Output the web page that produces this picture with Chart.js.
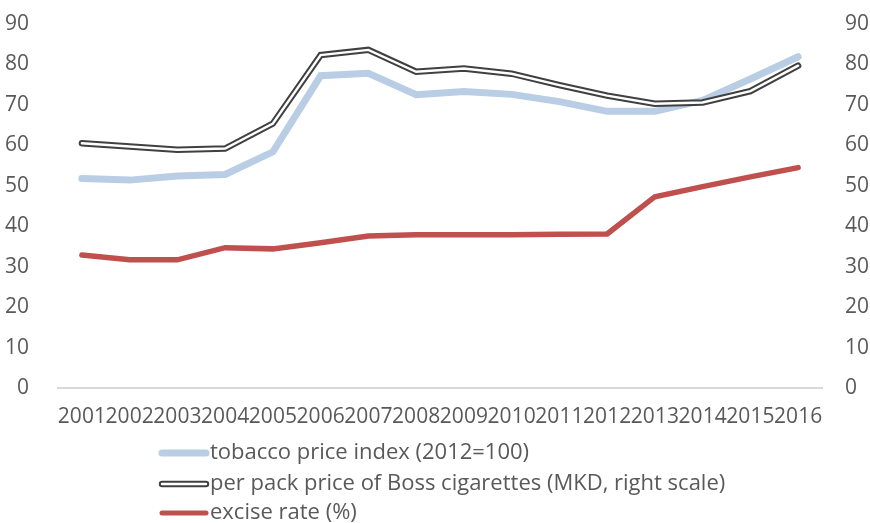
<!DOCTYPE html>
<html><head><meta charset="utf-8">
<script src="https://cdn.jsdelivr.net/npm/chart.js@4/dist/chart.umd.min.js"></script>
<style>html,body{margin:0;padding:0;background:#fff;}#wrap{width:870px;height:523px;}</style>
</head><body><div id="wrap"><canvas id="c" width="870" height="523"></canvas></div>
<script>
const years = ['2001','2002','2003','2004','2005','2006','2007','2008','2009','2010','2011','2012','2013','2014','2015','2016'];
const tobaccoPriceIndex = [51.8,51.4,52.4,52.8,58.4,77.2,77.8,72.5,73.3,72.6,70.8,68.4,68.4,71.1,76.4,81.9];
const bossPackPrice = [60.5,59.7,58.9,59.2,65.4,82.3,83.6,78.2,79.0,77.7,74.9,72.3,70.3,70.6,73.4,79.7];
const exciseRate = [32.9,31.7,31.7,34.7,34.4,35.9,37.6,37.9,37.9,37.9,38.0,38.1,47.3,49.8,52.2,54.5];
const leftTicks = [0,10,20,30,40,50,60,70,80,90];
const rightTicks = [0,10,20,30,40,50,60,70,80,90];
const seriesNames = ['tobacco price index (2012=100)','per pack price of Boss cigarettes (MKD, right scale)','excise rate (%)'];

const FONT = "'Open Sans', sans-serif";
const TXT = '#595959';
const BLUE = '#B9CDE5', DARK = '#404040', RED = '#C0504D';

Chart.defaults.font.family = FONT;
Chart.defaults.font.size = 21;
Chart.defaults.color = TXT;

const doubleLine = {
  id: 'doubleLine',
  afterDatasetDraw(chart, args) {
    if (args.index !== 1) return;
    const pts = args.meta.data;
    const ctx = chart.ctx;
    ctx.save();
    ctx.beginPath();
    pts.forEach((p, i) => { if (i === 0) ctx.moveTo(p.x, p.y); else ctx.lineTo(p.x, p.y); });
    ctx.strokeStyle = '#ffffff';
    ctx.lineWidth = 2.4;
    ctx.lineCap = 'round';
    ctx.lineJoin = 'miter';
    ctx.stroke();
    ctx.restore();
  }
};

const customLegend = {
  id: 'customLegend',
  afterDraw(chart) {
    const ctx = chart.ctx;
    const rows = [453, 484, 513];
    const x0 = 162, x1 = 206, tx = 210;
    ctx.save();
    ctx.lineCap = 'round';
    ctx.beginPath(); ctx.moveTo(x0, rows[0]); ctx.lineTo(x1, rows[0]);
    ctx.strokeStyle = BLUE; ctx.lineWidth = 7; ctx.stroke();
    ctx.beginPath(); ctx.moveTo(x0, rows[1]); ctx.lineTo(x1, rows[1]);
    ctx.strokeStyle = DARK; ctx.lineWidth = 6.4; ctx.stroke();
    ctx.beginPath(); ctx.moveTo(x0, rows[1]); ctx.lineTo(x1, rows[1]);
    ctx.strokeStyle = '#fff'; ctx.lineWidth = 2.4; ctx.stroke();
    ctx.beginPath(); ctx.moveTo(x0, rows[2]); ctx.lineTo(x1, rows[2]);
    ctx.strokeStyle = RED; ctx.lineWidth = 5; ctx.stroke();
    ctx.fillStyle = TXT;
    ctx.font = "22px " + FONT;
    ctx.textBaseline = 'middle';
    ctx.textAlign = 'left';
    seriesNames.forEach((t, i) => ctx.fillText(t, tx, rows[i]));
    ctx.restore();
  }
};

new Chart(document.getElementById('c'), {
  type: 'line',
  data: {
    labels: years,
    datasets: [
      { label: seriesNames[0], data: tobaccoPriceIndex, yAxisID: 'y', borderColor: BLUE, borderWidth: 7,
        pointRadius: 0, tension: 0, borderCapStyle: 'round', borderJoinStyle: 'miter', order: 1 },
      { label: seriesNames[1], data: bossPackPrice, yAxisID: 'y1', borderColor: DARK, borderWidth: 6.4,
        pointRadius: 0, tension: 0, borderCapStyle: 'round', borderJoinStyle: 'miter', order: 0 },
      { label: seriesNames[2], data: exciseRate, yAxisID: 'y', borderColor: RED, borderWidth: 5.5,
        pointRadius: 0, tension: 0, borderCapStyle: 'round', borderJoinStyle: 'miter', order: 2 }
    ]
  },
  options: {
    responsive: false,
    animation: false,
    devicePixelRatio: 1,
    layout: { padding: { top: 24, bottom: 95, left: 0, right: 0 } },
    plugins: { legend: { display: false }, tooltip: { enabled: false } },
    scales: {
      x: {
        offset: true,
        grid: { display: false, offset: true },
        border: { display: true, color: '#D9D9D9', width: 2 },
        ticks: { autoSkip: false, maxRotation: 0, minRotation: 0, padding: 8, color: TXT },
        afterFit(s) { s.height = 40; s.paddingLeft = 0; s.paddingRight = 0; }
      },
      y: {
        position: 'left', min: 0, max: 90,
        afterBuildTicks(s) { s.ticks = leftTicks.map(v => ({ value: v })); },
        grid: { display: false }, border: { display: false },
        ticks: { padding: 21, color: TXT },
        afterFit(s) { s.width = 58; s.paddingTop = 0; s.paddingBottom = 0; }
      },
      y1: {
        position: 'right', min: 0, max: 90,
        afterBuildTicks(s) { s.ticks = rightTicks.map(v => ({ value: v })); },
        grid: { display: false }, border: { display: false },
        ticks: { padding: 15, color: TXT },
        afterFit(s) { s.width = 48; s.paddingTop = 0; s.paddingBottom = 0; }
      }
    }
  },
  plugins: [doubleLine, customLegend]
});
</script>
</body></html>
